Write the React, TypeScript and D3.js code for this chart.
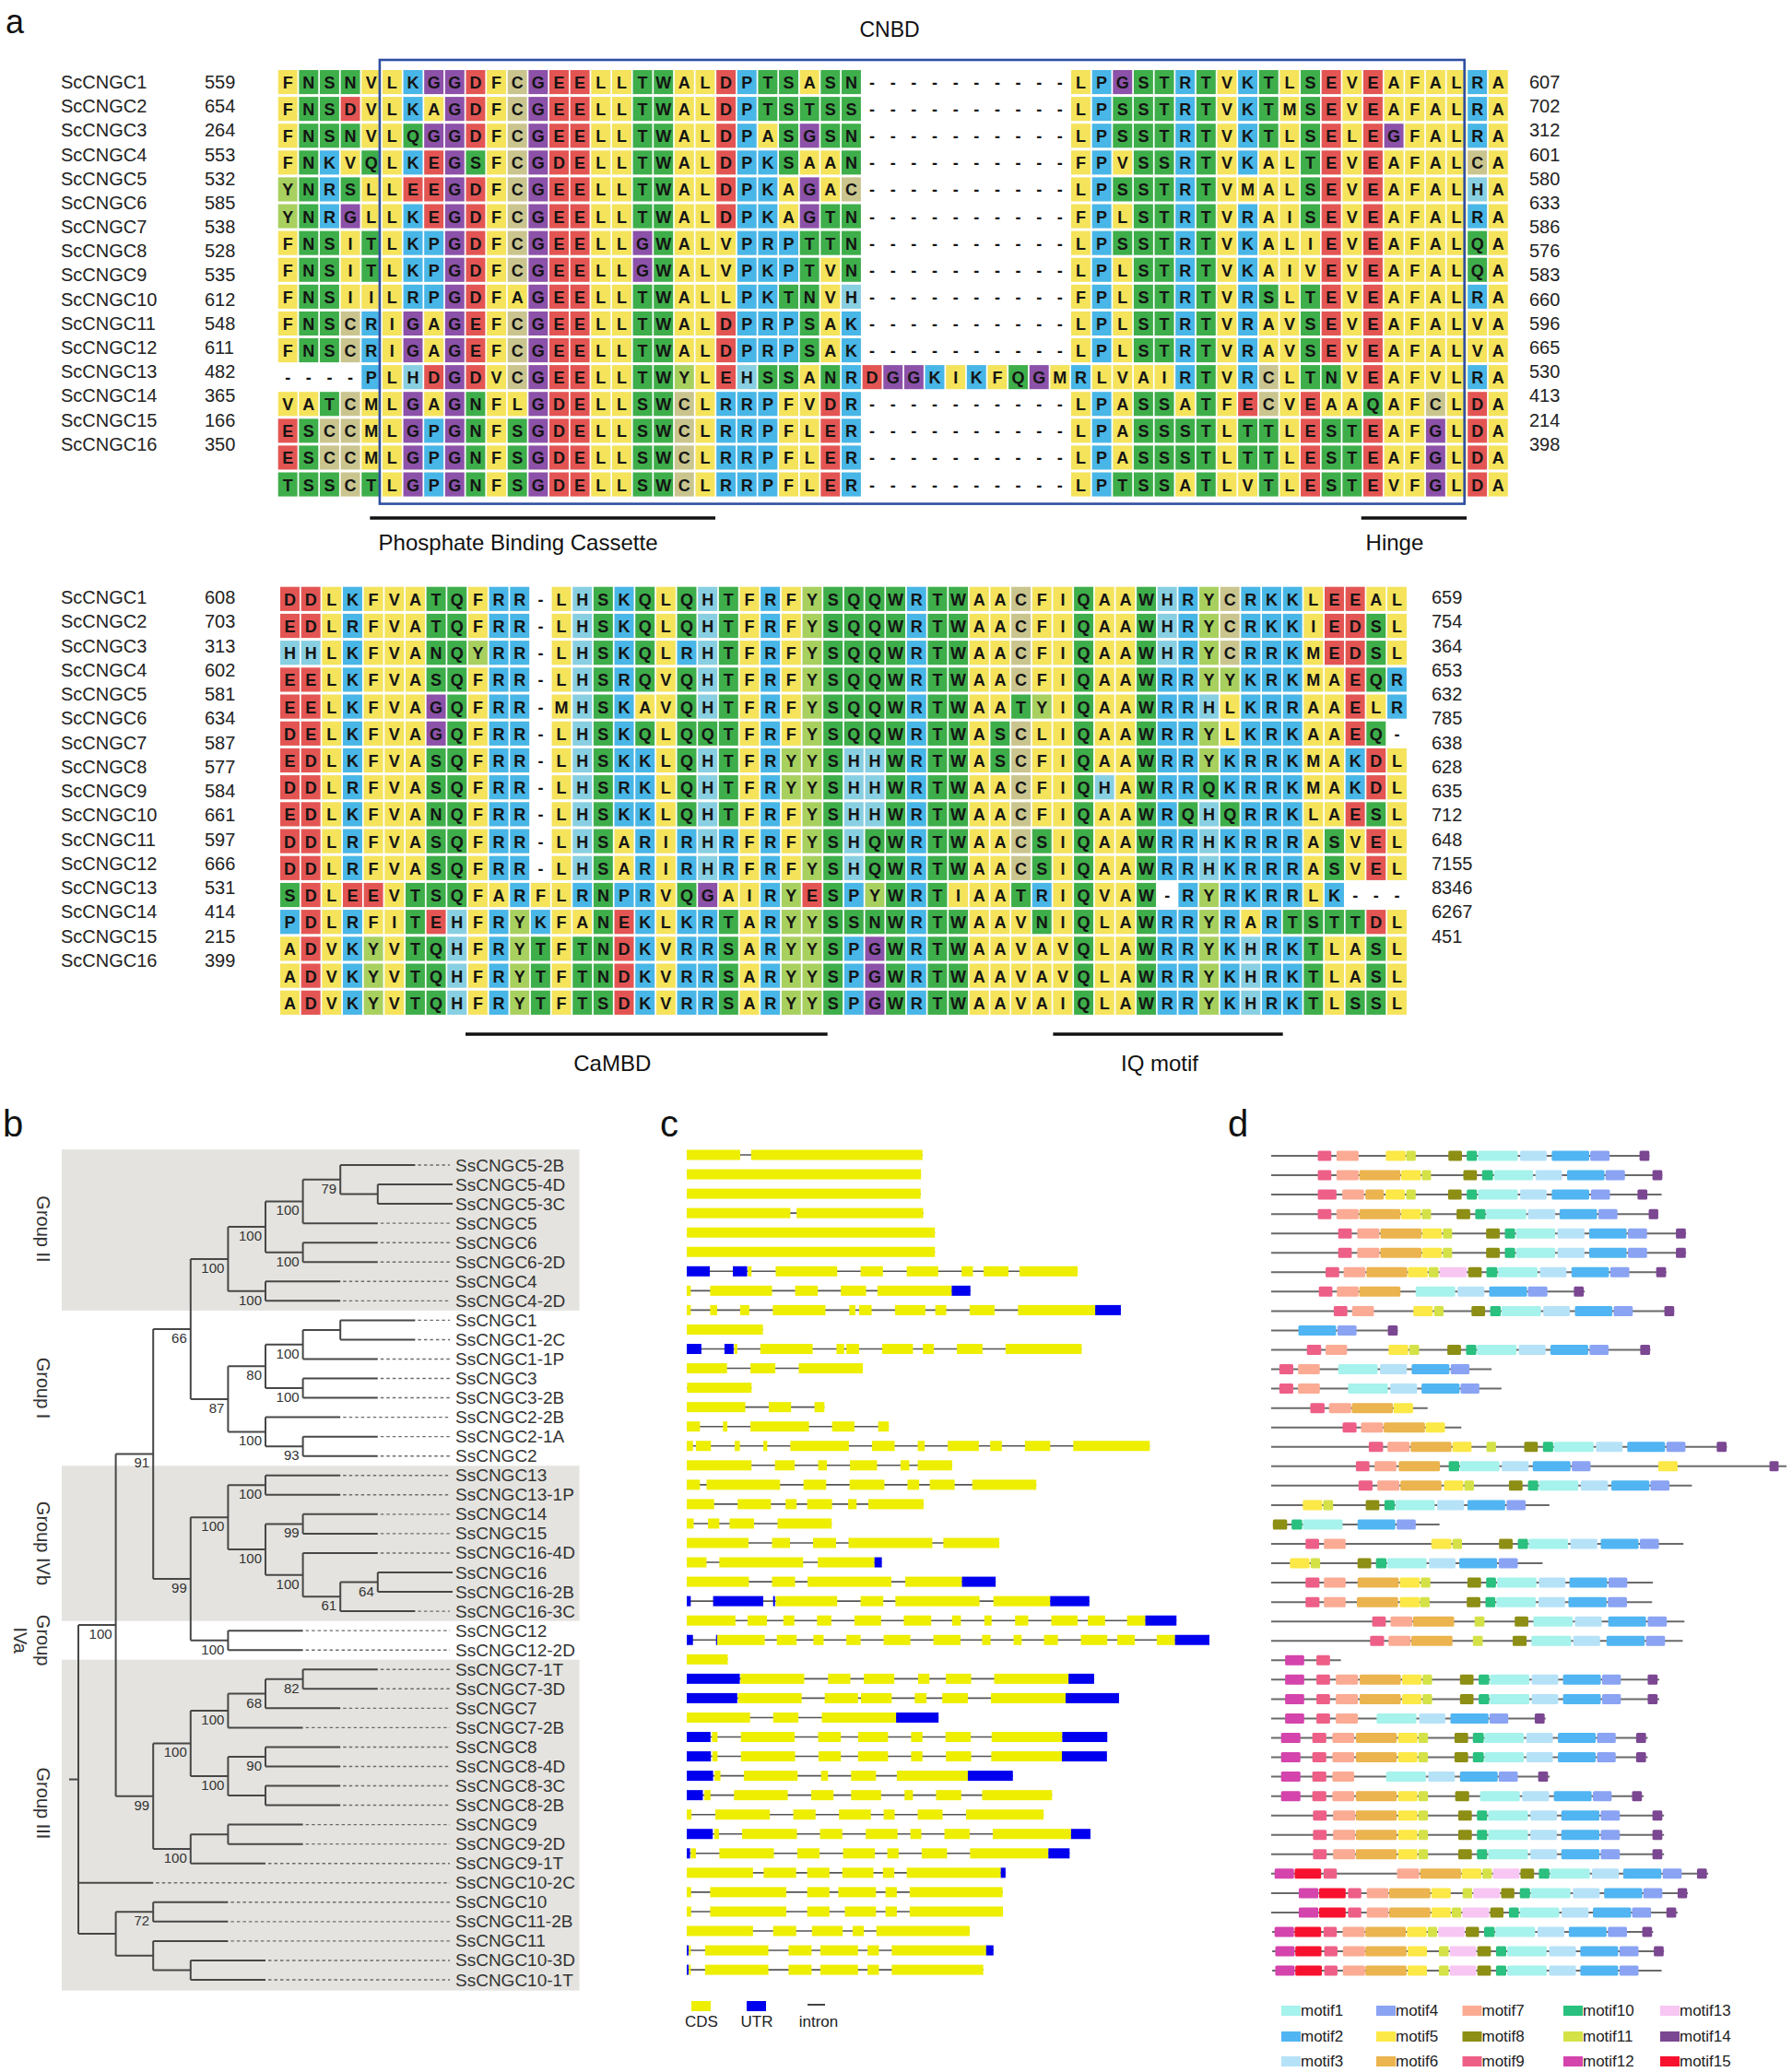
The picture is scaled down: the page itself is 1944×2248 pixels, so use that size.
import React from 'react';
import * as d3 from 'd3';

const FONT = "'Liberation Sans', Arial, Helvetica, sans-serif";
const W = 1944;
const H = 2248;

// ================= Panel a : alignment =================
const alignNames = ['ScCNGC1', 'ScCNGC2', 'ScCNGC3', 'ScCNGC4', 'ScCNGC5', 'ScCNGC6', 'ScCNGC7', 'ScCNGC8',
  'ScCNGC9', 'ScCNGC10', 'ScCNGC11', 'ScCNGC12', 'ScCNGC13', 'ScCNGC14', 'ScCNGC15', 'ScCNGC16'];
const topStartNums = [559, 654, 264, 553, 532, 585, 538, 528, 535, 612, 548, 611, 482, 365, 166, 350];
const topEndNums = [607, 702, 312, 601, 580, 633, 586, 576, 583, 660, 596, 665, 530, 413, 214, 398];
const topSeqs = [
  'FNSNVLKGGDFCGEELLTWALDPTSASN----------LPGSTRTVKTLSEVEAFALRA',
  'FNSDVLKAGDFCGEELLTWALDPTSTSS----------LPSSTRTVKTMSEVEAFALRA',
  'FNSNVLQGGDFCGEELLTWALDPASGSN----------LPSSTRTVKTLSELEGFALRA',
  'FNKVQLKEGSFCGDELLTWALDPKSAAN----------FPVSSRTVKALTEVEAFALCA',
  'YNRSLLEEGDFCGEELLTWALDPKAGAC----------LPSSTRTVMALSEVEAFALHA',
  'YNRGLLKEGDFCGEELLTWALDPKAGTN----------FPLSTRTVRAISEVEAFALRA',
  'FNSITLKPGDFCGEELLGWALVPRPTTN----------LPSSTRTVKALIEVEAFALQA',
  'FNSITLKPGDFCGEELLGWALVPKPTVN----------LPLSTRTVKAIVEVEAFALQA',
  'FNSIILRPGDFAGEELLTWALLPKTNVH----------FPLSTRTVRSLTEVEAFALRA',
  'FNSCRIGAGEFCGEELLTWALDPRPSAK----------LPLSTRTVRAVSEVEAFALVA',
  'FNSCRIGAGEFCGEELLTWALDPRPSAK----------LPLSTRTVRAVSEVEAFALVA',
  '----PLHDGDVCGEELLTWYLEHSSANRDGGKIKFQGMRLVAIRTVRCLTNVEAFVLRA',
  'VATCMLGAGNFLGDELLSWCLRRPFVDR----------LPASSATFECVEAAQAFCLDA',
  'ESCCMLGPGNFSGDELLSWCLRRPFLER----------LPASSSTLTTLESTEAFGLDA',
  'ESCCMLGPGNFSGDELLSWCLRRPFLER----------LPASSSTLTTLESTEAFGLDA',
  'TSSCTLGPGNFSGDELLSWCLRRPFLER----------LPTSSATLVTLESTEVFGLDA',
];
const bottomStartNums = [608, 703, 313, 602, 581, 634, 587, 577, 584, 661, 597, 666, 531, 414, 215, 399];
const bottomEndNums = [659, 754, 364, 653, 632, 785, 638, 628, 635, 712, 648, 7155, 8346, 6267, 451];
const bottomSeqs = [
  'DDLKFVATQFRR-LHSKQLQHTFRFYSQQWRTWAACFIQAAWHRYCRKKLEEAL',
  'EDLRFVATQFRR-LHSKQLQHTFRFYSQQWRTWAACFIQAAWHRYCRKKIEDSL',
  'HHLKFVANQYRR-LHSKQLRHTFRFYSQQWRTWAACFIQAAWHRYCRRKMEDSL',
  'EELKFVASQFRR-LHSRQVQHTFRFYSQQWRTWAACFIQAAWRRYYKRKMAEQR',
  'EELKFVAGQFRR-MHSKAVQHTFRFYSQQWRTWAATYIQAAWRRHLKRRAAELR',
  'DELKFVAGQFRR-LHSKQLQQTFRFYSQQWRTWASCLIQAAWRRYLKRKAAEQ-',
  'EDLKFVASQFRR-LHSKKLQHTFRYYSHHWRTWASCFIQAAWRRYKRRKMAKDL',
  'DDLRFVASQFRR-LHSRKLQHTFRYYSHHWRTWAACFIQHAWRRQKRRKMAKDL',
  'EDLKFVANQFRR-LHSKKLQHTFRFYSHHWRTWAACFIQAAWRQHQRRKLAESL',
  'DDLRFVASQFRR-LHSARIRHRFRFYSHQWRTWAACSIQAAWRRHKRRRASVEL',
  'DDLRFVASQFRR-LHSARIRHRFRFYSHQWRTWAACSIQAAWRRHKRRRASVEL',
  'SDLEEVTSQFARFLRNPRVQGAIRYESPYWRTIAATRIQVAW-RYRKRRLK---',
  'PDLRFITEHFRYKFANEKLKRTARYYSSNWRTWAAVNIQLAWRRYRARTSTTDL',
  'ADVKYVTQHFRYTFTNDKVRRSARYYSPGWRTWAAVAVQLAWRRYKHRKTLASL',
  'ADVKYVTQHFRYTFTNDKVRRSARYYSPGWRTWAAVAVQLAWRRYKHRKTLASL',
  'ADVKYVTQHFRYTFTSDKVRRSARYYSPGWRTWAAVAIQLAWRRYKHRKTLSSL',
];
// annotation spans in column units (0-based)
const cnbdSpan = { label: 'CNBD', from: 5, to: 57, labelAt: 29.3 };
const topDomains = [
  { label: 'Phosphate Binding Cassette', from: 4.4, to: 20.95, labelAt: 11.5 },
  { label: 'Hinge', from: 51.9, to: 56.95, labelAt: 53.5 },
];
const bottomDomains = [
  { label: 'CaMBD', from: 8.87, to: 26.2, labelAt: 15.9 },
  { label: 'IQ motif', from: 37.0, to: 48.0, labelAt: 42.1 },
];
const residueGroups = [
  { residues: 'AVLIMF', color: '#f4e35b' },
  { residues: 'STNQW', color: '#3eae4a' },
  { residues: 'DE', color: '#e35553' },
  { residues: 'KRP', color: '#48b6e6' },
  { residues: 'H', color: '#88cfe2' },
  { residues: 'G', color: '#8c51a8' },
  { residues: 'C', color: '#cac58e' },
  { residues: 'Y', color: '#a8d05f' },
];

// ================= Panel b : tree =================
const cladeII = '((((SsCNGC5-2B,(SsCNGC5-4D,SsCNGC5-3C))79,SsCNGC5)100,(SsCNGC6,SsCNGC6-2D)100)100,(SsCNGC4,SsCNGC4-2D)100)100';
const cladeI = '((((SsCNGC1,SsCNGC1-2C),SsCNGC1-1P)100,(SsCNGC3,SsCNGC3-2B)100)80,(SsCNGC2-2B,(SsCNGC2-1A,SsCNGC2)93)100)87';
const cladeIVb = '((SsCNGC13,SsCNGC13-1P)100,((SsCNGC14,SsCNGC15)99,(SsCNGC16-4D,((SsCNGC16,SsCNGC16-2B)64,SsCNGC16-3C)61)100)100)100';
const cladeIVa = '(SsCNGC12,SsCNGC12-2D)100';
const cladeIIIa = '(((((SsCNGC7-1T,SsCNGC7-3D)82,SsCNGC7)68,SsCNGC7-2B)100,((SsCNGC8,SsCNGC8-4D)90,(SsCNGC8-3C,SsCNGC8-2B))100)100,((SsCNGC9,SsCNGC9-2D),SsCNGC9-1T)100)99';
const cladeIIIb = '((SsCNGC10,SsCNGC11-2B)72,(SsCNGC11,(SsCNGC10-3D,SsCNGC10-1T)))';
const treeNewick = `((((${cladeII},${cladeI})66,(${cladeIVb},${cladeIVa})99)91,${cladeIIIa})100,SsCNGC10-2C,${cladeIIIb})`;
const treeGroups = [
  { lines: ['Group II'], first: 0, last: 7, shaded: true, labelAt: 3.3 },
  { lines: ['Group I'], first: 8, last: 15, shaded: false, labelAt: 11.5 },
  { lines: ['Group IVb'], first: 16, last: 23, shaded: true, labelAt: 19.5 },
  { lines: ['Group', 'IVa'], first: 24, last: 25, shaded: false, labelAt: 24.5 },
  { lines: ['Group III'], first: 26, last: 42, shaded: true, labelAt: 32.9 },
];

// ================= Panel c : gene structures =================
const geneRows = [
  'Y67-213 Y243-711',
  'Y67-707',
  'Y67-706',
  'Y67-350 Y367-713',
  'Y67-745',
  'Y67-745',
  'U67-130 U193-232 Y234-244 Y310-478 Y542-603 Y668-754 Y818-849 Y878-946 Y976-1135',
  'Y67-78 Y131-300 Y363-425 Y488-557 Y588-791 U791-842',
  'Y67-78 Y131-150 Y213-238 Y302-446 Y511-528 Y538-572 Y636-719 Y746-776 Y840-908 Y972-1183 U1183-1253',
  'Y67-275',
  'U67-107 U170-195 Y197-205 Y268-411 Y476-497 Y503-538 Y601-685 Y712-742 Y805-875 Y938-1146',
  'Y67-177 Y241-309 Y373-548',
  'Y68-244',
  'Y67-227 Y291-352 Y416-443',
  'Y67-103 Y166-178 Y241-401 Y464-525 Y590-619',
  'Y67-84 Y92-133 Y198-212 Y276-287 Y350-510 Y573-635 Y698-717 Y780-865 Y896-928 Y991-1060 Y1123-1332',
  'Y67-244 Y308-362 Y426-450 Y513-587 Y651-675 Y698-792',
  'Y67-103 Y121-322 Y386-448 Y512-607 Y670-702 Y731-799 Y847-1022',
  'Y67-142 Y206-297 Y337-367 Y396-464 Y508-531 Y563-714',
  'Y67-86 Y125-156 Y184-251 Y315-463',
  'Y67-236 Y300-349 Y412-475 Y509-738 Y768-921',
  'Y67-121 Y156-385 Y425-580 U580-600',
  'Y67-237 Y300-363 Y397-626 Y664-819 U819-911',
  'U67-78 U139-276 U303-308 Y310-478 Y542-604 Y637-867 Y905-1060 U1060-1167',
  'Y67-200 Y233-286 Y331-361 Y423-462 Y525-598 Y660-735 Y792-816 Y880-900 Y964-1000 Y1063-1135 Y1163-1210 Y1270-1320 U1320-1405',
  'U67-84 U147-150 Y150-280 Y313-367 Y413-441 Y503-542 Y605-678 Y741-815 Y874-897 Y960-982 Y1043-1081 Y1144-1216 Y1243-1291 Y1351-1401 U1401-1495',
  'Y67-179',
  'U67-212 Y214-388 Y453-514 Y551-634 Y699-730 Y775-844 Y907-1110 U1110-1180',
  'U67-205 Y207-381 Y444-535 Y543-627 Y690-722 Y765-835 Y898-1102 U1102-1248',
  'Y67-240 Y303-372 Y436-639 U639-755',
  'U67-132 Y136-151 Y215-362 Y426-488 Y535-617 Y680-711 Y774-843 Y900-1093 U1093-1216',
  'U67-133 Y137-151 Y215-363 Y427-488 Y535-617 Y680-711 Y775-844 Y899-1092 U1092-1215',
  'U67-139 Y143-159 Y223-370 Y434-453 Y516-584 Y641-835 U835-958',
  'U67-111 Y115-132 Y196-343 Y407-468 Y516-598 Y662-685 Y748-817 Y874-1065',
  'Y67-80 Y145-294 Y358-419 Y483-570 Y605-635 Y698-766 Y830-1042',
  'U67-138 Y142-155 Y218-368 Y431-492 Y556-643 Y678-708 Y771-840 Y903-1117 U1117-1170',
  'U67-76 Y78-92 Y156-305 Y369-430 Y494-581 Y615-646 Y709-778 Y841-1055 U1055-1113',
  'Y67-248 Y277-366 Y396-457 Y492-577 Y603-634 Y668-925 U925-938',
  'Y67-79 Y131-339 Y396-457 Y481-584 Y610-641 Y676-930',
  'Y67-79 Y131-339 Y396-457 Y499-584 Y610-641 Y676-931',
  'Y67-248 Y303-366 Y409-493 Y520-551 Y585-840',
  'U67-72 Y73-78 Y117-290 Y345-408 Y432-535 Y561-592 Y627-885 U885-905',
  'U67-72 Y73-78 Y117-290 Y345-408 Y432-535 Y561-592 Y627-877',
];
const geneLegend = [
  { label: 'CDS', kind: 'Y' },
  { label: 'UTR', kind: 'U' },
  { label: 'intron', kind: 'I' },
];
const geneColors = { Y: '#eeee00', U: '#0000ee' };

// ================= Panel d : motifs =================
const motifRows = [
  '45-1157|9:182-222 7:237-302 5:382-440 11:442-470 8:566-606 10:620-650 1:653-770 3:777-855 2:870-980 4:983-1040 14:1128-1157',
  '45-1195|9:182-222 7:237-302 6:304-425 5:427-485 11:488-515 8:610-650 10:665-697 1:700-815 3:822-900 2:915-1025 4:1028-1085 14:1166-1195',
  '45-1193|9:182-237 7:254-318 6:322-376 5:381-438 11:442-470 8:565-605 10:620-650 1:653-770 3:777-855 2:870-980 4:985-1041 14:1122-1151',
  '45-1183|9:182-222 7:237-302 6:304-425 5:427-485 11:488-515 8:590-630 10:645-675 1:677-795 3:800-880 2:893-1003 4:1007-1063 14:1155-1183',
  '45-1265|9:242-282 7:298-363 6:366-487 5:489-547 11:550-577 8:677-717 10:732-762 1:765-880 3:887-966 2:980-1090 4:1094-1150 14:1235-1264',
  '45-1265|9:242-282 7:298-363 6:366-487 5:489-547 11:550-577 8:677-717 10:732-762 1:765-880 3:887-966 2:980-1090 4:1094-1150 14:1235-1264',
  '45-1207|9:205-245 7:258-322 6:325-445 5:447-505 11:508-537 13:540-620 8:624-664 10:678-710 1:712-828 3:835-913 2:928-1038 4:1042-1098 14:1177-1206',
  '45-967|9:185-225 7:238-302 6:304-425 1:470-586 3:593-672 2:686-797 4:800-857 14:935-964',
  '45-1230|9:229-269 7:283-347 5:463-520 11:524-552 8:634-674 10:689-720 1:722-838 3:845-923 2:938-1048 4:1052-1108 14:1201-1230',
  '45-417|2:125-236 4:240-296 14:388-417',
  '45-1160|9:150-192 7:205-268 5:390-448 11:451-480 8:563-603 10:618-648 1:650-766 3:773-852 2:866-977 4:981-1037 14:1130-1159',
  '45-693|9:69-110 7:124-188 1:242-358 3:365-444 2:458-569 4:573-628',
  '45-722|9:69-110 7:124-188 1:271-388 3:395-474 2:487-599 4:602-657',
  '45-505|9:160-202 7:215-280 6:282-403 5:405-462',
  '45-604|9:255-296 7:309-374 6:376-497 5:499-556',
  '45-1385|9:332-374 7:387-452 6:455-575 5:578-634 11:678-706 8:789-829 10:844-874 1:876-993 3:1000-1078 2:1092-1203 4:1207-1263 14:1355-1384',
  '45-1560|9:294-334 7:349-413 6:420-541 10:567-598 1:600-716 3:723-802 2:814-925 4:929-984 5:1183-1240 14:1510-1537',
  '45-1282|9:302-343 7:357-422 6:425-546 5:553-610 11:613-641 8:744-784 10:800-830 1:832-948 3:955-1035 2:1045-1157 4:1160-1216',
  '45-863|5:138-195 11:198-227 8:323-363 10:378-408 1:410-526 3:533-612 2:622-733 4:737-793',
  '50-540|8:50-92 10:105-136 1:138-255 2:299-410 4:414-470',
  '45-1257|9:146-186 7:200-264 5:516-575 11:578-606 8:715-755 10:770-800 1:802-918 3:925-1004 2:1014-1125 4:1129-1185',
  '45-843|5:100-158 11:161-189 8:299-339 10:353-384 1:386-502 3:509-587 2:598-709 4:714-770',
  '45-1167|9:146-187 7:200-264 6:299-420 5:423-482 11:485-513 8:622-662 10:677-706 1:709-825 3:832-910 2:922-1033 4:1037-1092',
  '45-1165|9:146-187 7:200-264 6:297-418 5:423-482 11:483-511 8:620-660 10:675-704 1:707-823 3:831-909 2:919-1031 4:1035-1091',
  '45-1260|9:342-382 7:396-460 6:462-583 11:643-672 8:761-801 1:816-932 3:938-1017 2:1036-1147 4:1152-1208',
  '45-1255|9:336-377 7:390-455 6:457-578 11:638-667 8:755-796 1:810-927 3:933-1012 2:1031-1143 4:1147-1203',
  '45-250|12:86-142 9:178-218',
  '45-1186|12:86-142 9:178-218 7:235-300 6:305-426 5:430-487 11:490-518 8:600-640 10:655-686 1:688-804 3:811-889 2:903-1014 4:1018-1073 14:1152-1181',
  '45-1186|12:86-142 9:178-218 7:235-300 6:305-426 5:430-487 11:490-518 8:600-640 10:655-686 1:688-804 3:811-889 2:903-1014 4:1018-1073 14:1152-1181',
  '45-852|12:86-142 9:178-218 7:235-300 1:355-472 3:480-557 2:572-684 4:687-742 14:820-849',
  '45-1152|12:74-131 9:166-207 7:225-289 6:294-414 5:418-475 11:478-506 8:584-624 10:638-670 1:672-788 3:795-873 2:888-999 4:1003-1058 14:1118-1147',
  '45-1152|12:74-131 9:166-207 7:225-289 6:294-414 5:418-475 11:478-506 8:584-624 10:638-670 1:672-788 3:795-873 2:888-999 4:1003-1058 14:1118-1147',
  '45-864|12:74-131 9:166-207 7:225-289 1:383-500 3:507-585 2:600-711 4:714-770 14:830-859',
  '45-1140|12:74-131 9:166-207 7:225-289 6:294-414 5:418-475 11:478-506 8:586-627 1:659-776 3:783-862 2:876-987 4:991-1046 14:1106-1135',
  '45-1200|9:168-208 7:227-292 6:294-414 5:418-475 11:478-506 8:595-635 10:650-680 1:683-800 3:807-885 2:898-1010 4:1014-1070 14:1166-1195',
  '45-1200|9:168-208 7:227-292 6:294-414 5:418-475 11:478-506 8:595-635 10:650-680 1:683-800 3:807-885 2:898-1010 4:1014-1070 14:1166-1195',
  '45-1200|9:168-208 7:227-292 6:294-414 5:418-475 11:478-506 8:595-635 10:650-680 1:683-800 3:807-885 2:898-1010 4:1014-1070 14:1166-1195',
  '45-1330|12:55-112 15:114-192 9:199-238 7:415-480 6:483-603 5:605-663 11:666-694 13:697-775 8:778-818 10:832-863 1:865-982 3:988-1067 2:1080-1192 4:1196-1252 14:1297-1326',
  '45-1270|12:126-184 15:186-264 9:271-310 7:326-390 6:392-513 5:516-573 11:608-636 13:639-718 8:721-760 10:776-806 1:808-925 3:932-1011 2:1024-1136 4:1139-1195 14:1240-1268',
  '45-1240|12:126-184 15:186-264 9:271-310 7:326-390 6:392-513 5:516-573 11:576-604 13:607-686 8:689-728 10:744-773 1:776-892 3:899-978 2:991-1103 4:1106-1162 14:1207-1236',
  '48-1168|12:55-112 15:114-192 9:199-238 7:255-320 6:322-441 5:444-502 11:505-533 13:536-614 8:617-656 10:671-702 1:704-821 3:828-907 2:920-1031 4:1035-1091 14:1136-1165',
  '48-1200|12:57-114 15:116-193 9:201-240 7:256-321 6:322-443 5:446-503 11:538-567 13:570-648 8:651-691 10:706-736 1:739-855 3:862-941 2:954-1065 4:1069-1125 14:1170-1199',
  '48-1193|12:57-114 15:116-194 9:201-240 7:256-321 6:322-443 5:446-503 11:538-567 13:570-648 8:651-691 10:706-736 1:739-855 3:862-941 2:954-1065 4:1069-1125',
];
const motifColors = ['#a6f2ec', '#50b5f2', '#b6e2f8', '#8aa3f3', '#fce846', '#ebb44e', '#fbab94', '#8d8e14',
  '#ee5f87', '#2ac07f', '#d4e248', '#d444ac', '#f8c6f2', '#7b4792', '#f7112e'];

// ================= helpers =================
function colorOf(ch) {
  const g = residueGroups.find((r) => r.residues.includes(ch));
  return g ? g.color : '#ffffff';
}

function parseNewick(s) {
  let i = 0;
  function node() {
    const n = { name: '', children: [] };
    if (s[i] === '(') {
      i++;
      n.children.push(node());
      while (s[i] === ',') { i++; n.children.push(node()); }
      i++;
    }
    let name = '';
    while (i < s.length && !',()'.includes(s[i])) name += s[i++];
    n.name = name.trim();
    return n;
  }
  return node();
}

function parseGene(row) {
  return row.split(' ').map((t) => {
    const [a, b] = t.slice(1).split('-').map(Number);
    return { kind: t[0], start: a, end: b };
  });
}

function parseMotifRow(row) {
  const [line, rest] = row.split('|');
  const [ls, le] = line.split('-').map(Number);
  const motifs = rest.split(' ').map((t) => {
    const [m, span] = t.split(':');
    const [a, b] = span.split('-').map(Number);
    return { motif: +m, start: a, end: b };
  });
  return { ls, le, motifs };
}

// ================= scales =================
const TOP_COL = 22.64, TOP_ROW = 29.1;
const BOT_COL = 22.66, BOT_ROW = 29.2;
const topX = d3.scaleLinear().domain([0, 59]).range([301.7, 301.7 + 59 * TOP_COL]);
const topY = d3.scaleLinear().domain([0, 16]).range([76, 76 + 16 * TOP_ROW]);
const botX = d3.scaleLinear().domain([0, 54]).range([304, 304 + 54 * BOT_COL]);
const botY = d3.scaleLinear().domain([0, 16]).range([636.7, 636.7 + 16 * BOT_ROW]);
const topLabelY = d3.scaleLinear().domain([0, 15]).range([89, 481.7]);
const botLabelY = d3.scaleLinear().domain([0, 15]).range([648, 1042]);

const treeX = d3.scaleLinear().domain([0, 10]).range([85, 491]);
const treeY = d3.scaleLinear().domain([0, 42]).range([1264, 2148]);

const geneX = d3.scaleLinear().domain([67, 1495]).range([745, 1312]);
const geneY = d3.scaleLinear().domain([0, 42]).range([1253, 1253 + 42 * 21.05]);

const motifX = d3.scaleLinear().domain([45, 1560]).range([1379, 1938]);
const motifY = d3.scaleLinear().domain([0, 42]).range([1254, 1254 + 42 * 21.05]);

// ================= tree layout =================
const treeHier = d3.hierarchy(parseNewick(treeNewick), (d) => (d.children.length ? d.children : null));
{
  let leafIdx = 0;
  const assign = (n) => {
    n.px = treeX(n.depth);
    if (!n.children) {
      n.py = treeY(leafIdx++);
    } else {
      n.children.forEach(assign);
      n.py = (n.children[0].py + n.children[n.children.length - 1].py) / 2;
    }
  };
  assign(treeHier);
}

function AlignmentBlock({ seqs, xs, ys, col, row }) {
  const w = col - 1.7;
  const h = row - 3;
  const out = [];
  seqs.forEach((seq, i) => {
    seq.split('').forEach((ch, j) => {
      const x = xs(j);
      const y = ys(i);
      if (ch !== '-') {
        out.push(<rect key={`r${i}-${j}`} x={x} y={y} width={w} height={h} fill={colorOf(ch)} />);
      }
      out.push(
        <text key={`t${i}-${j}`} x={x + w / 2} y={y + h / 2 + 1} textAnchor="middle" dominantBaseline="central"
          fontSize={18} fontWeight="bold" fill="#141414">{ch}</text>
      );
    });
  });
  return <g>{out}</g>;
}

export default function App() {
  const nodes = treeHier.descendants();
  const leaves = treeHier.leaves();
  const dashEnd = treeX(10) - 3;

  return (
    <svg width={W} height={H} viewBox={`0 0 ${W} ${H}`} style={{ position: 'absolute', left: 0, top: 0, background: '#fff' }}
      fontFamily={FONT}>
      <rect x={0} y={0} width={W} height={H} fill="#ffffff" />

      {/* ---------- panel labels ---------- */}
      <text x={6} y={36} fontSize={36} fill="#111">a</text>
      <text x={3} y={1233} fontSize={40} fill="#111">b</text>
      <text x={716} y={1233} fontSize={40} fill="#111">c</text>
      <text x={1332} y={1233} fontSize={40} fill="#111">d</text>

      {/* ---------- panel a: top block ---------- */}
      <text x={topX(cnbdSpan.labelAt)} y={40} textAnchor="middle" fontSize={23} fill="#111">{cnbdSpan.label}</text>
      {alignNames.map((n, i) => (
        <g key={`tn${i}`}>
          <text x={66} y={topLabelY(i)} dominantBaseline="central" fontSize={20} fill="#222">{n}</text>
          <text x={222} y={topLabelY(i)} dominantBaseline="central" fontSize={20} fill="#222">{topStartNums[i]}</text>
          <text x={1659} y={topLabelY(i)} dominantBaseline="central" fontSize={20} fill="#222">{topEndNums[i]}</text>
        </g>
      ))}
      <AlignmentBlock seqs={topSeqs} xs={topX} ys={topY} col={TOP_COL} row={TOP_ROW} />
      <rect x={topX(cnbdSpan.from) - 3} y={topY(0) - 11} width={topX(cnbdSpan.to) - topX(cnbdSpan.from) - 0.5}
        height={topY(16) - topY(0) + 16} fill="none" stroke="#2f4ea3" strokeWidth={2.6} />
      {topDomains.map((d, k) => (
        <g key={`td${k}`}>
          <line x1={topX(d.from)} x2={topX(d.to)} y1={562} y2={562} stroke="#111" strokeWidth={3.5} />
          <text x={topX(d.labelAt)} y={597} textAnchor="middle" fontSize={24} fill="#111">{d.label}</text>
        </g>
      ))}

      {/* ---------- panel a: bottom block ---------- */}
      {alignNames.map((n, i) => (
        <g key={`bn${i}`}>
          <text x={66} y={botLabelY(i)} dominantBaseline="central" fontSize={20} fill="#222">{n}</text>
          <text x={222} y={botLabelY(i)} dominantBaseline="central" fontSize={20} fill="#222">{bottomStartNums[i]}</text>
        </g>
      ))}
      {bottomEndNums.map((v, i) => (
        <text key={`be${i}`} x={1553} y={botLabelY(i)} dominantBaseline="central" fontSize={20} fill="#222">{v}</text>
      ))}
      <AlignmentBlock seqs={bottomSeqs} xs={botX} ys={botY} col={BOT_COL} row={BOT_ROW} />
      {bottomDomains.map((d, k) => (
        <g key={`bd${k}`}>
          <line x1={botX(d.from)} x2={botX(d.to)} y1={1122} y2={1122} stroke="#111" strokeWidth={3.5} />
          <text x={botX(d.labelAt)} y={1162} textAnchor="middle" fontSize={24} fill="#111">{d.label}</text>
        </g>
      ))}

      {/* ---------- panel b: tree ---------- */}
      {treeGroups.filter((g) => g.shaded).map((g, k) => {
        const y0 = treeY(g.first - (g.first === 0 ? 0.8 : 0.5));
        const y1 = treeY(g.last + (g.last === 42 ? 0.55 : 0.5));
        return <rect key={`gs${k}`} x={67} y={y0} width={628.6 - 67} height={y1 - y0} fill="#e4e3df" />;
      })}
      {treeGroups.map((g, k) => (
        <g key={`gl${k}`}>
          {g.lines.map((ln, li) => (
            <text key={li} transform={`translate(${47 - li * 25},${treeY(g.labelAt)}) rotate(90)`} textAnchor="middle"
              dominantBaseline="central" fontSize={20} fill="#333">{ln}</text>
          ))}
        </g>
      ))}
      <g stroke="#474747" strokeWidth={2} fill="none">
        <line x1={treeHier.px - 10} x2={treeHier.px} y1={treeHier.py} y2={treeHier.py} />
        {nodes.filter((n) => n.children).map((n, k) => (
          <line key={`v${k}`} x1={n.px} x2={n.px} y1={n.children[0].py} y2={n.children[n.children.length - 1].py} />
        ))}
        {nodes.filter((n) => n.parent && n.children).map((n, k) => (
          <line key={`h${k}`} x1={n.parent.px} x2={n.px} y1={n.py} y2={n.py} />
        ))}
        {leaves.map((n, k) => (
          <line key={`l${k}`} x1={n.parent.px} x2={treeX(n.parent.depth + 2)} y1={n.py} y2={n.py} />
        ))}
      </g>
      <g stroke="#6d6d6d" strokeWidth={1.4} strokeDasharray="3.5,3" fill="none">
        {leaves.filter((n) => treeX(n.parent.depth + 2) < dashEnd - 2).map((n, k) => (
          <line key={`d${k}`} x1={treeX(n.parent.depth + 2) + 3} x2={dashEnd} y1={n.py} y2={n.py} />
        ))}
      </g>
      {leaves.map((n, k) => (
        <text key={`ln${k}`} x={treeX(10) + 3} y={n.py} dominantBaseline="central" fontSize={19} fill="#333">{n.data.name}</text>
      ))}
      {nodes.filter((n) => n.children && n.data.name).map((n, k) => (
        <text key={`bs${k}`} x={n.px - 4} y={n.py + 15} textAnchor="end" fontSize={15} fill="#333">{n.data.name}</text>
      ))}

      {/* ---------- panel c: gene structures ---------- */}
      {geneRows.map((row, i) => {
        const segs = parseGene(row);
        const s = d3.min(segs, (d) => d.start);
        const e = d3.max(segs, (d) => d.end);
        const y = geneY(i);
        return (
          <g key={`gr${i}`}>
            <line x1={geneX(s)} x2={geneX(e)} y1={y} y2={y} stroke="#555" strokeWidth={1.6} />
            {segs.map((sg, k) => (
              <rect key={k} x={geneX(sg.start)} y={y - 5.5} width={Math.max(1.2, geneX(sg.end) - geneX(sg.start))} height={11}
                fill={geneColors[sg.kind]} />
            ))}
          </g>
        );
      })}
      {geneLegend.map((g, k) => {
        const cx = [761, 821, 888][k];
        return (
          <g key={`glg${k}`}>
            {g.kind === 'I'
              ? <line x1={cx - 12} x2={cx + 7} y1={2175} y2={2175} stroke="#444" strokeWidth={2} />
              : <rect x={cx - 11} y={2171} width={21} height={11} fill={geneColors[g.kind]} />}
            <text x={cx} y={2199} textAnchor="middle" fontSize={17} fill="#222">{g.label}</text>
          </g>
        );
      })}

      {/* ---------- panel d: motifs ---------- */}
      {motifRows.map((row, i) => {
        const r = parseMotifRow(row);
        const y = motifY(i);
        return (
          <g key={`mr${i}`}>
            <line x1={motifX(r.ls)} x2={motifX(r.le)} y1={y} y2={y} stroke="#6a6a6a" strokeWidth={2} />
            {r.motifs.map((m, k) => (
              <rect key={k} x={motifX(m.start)} y={y - 5.5} width={motifX(m.end) - motifX(m.start)} height={11} rx={1.5}
                fill={motifColors[m.motif - 1]} />
            ))}
          </g>
        );
      })}
      {motifColors.map((c, k) => {
        const col = Math.floor(k / 3);
        const rw = k % 3;
        const x = [1390, 1493, 1586.5, 1696, 1801][col];
        const y = [2181.5, 2209.5, 2236.5][rw];
        return (
          <g key={`ml${k}`}>
            <rect x={x} y={y - 5.5} width={21} height={11} fill={c} />
            <text x={x + 21} y={y} dominantBaseline="central" fontSize={17} fill="#222">{`motif${k + 1}`}</text>
          </g>
        );
      })}
    </svg>
  );
}
